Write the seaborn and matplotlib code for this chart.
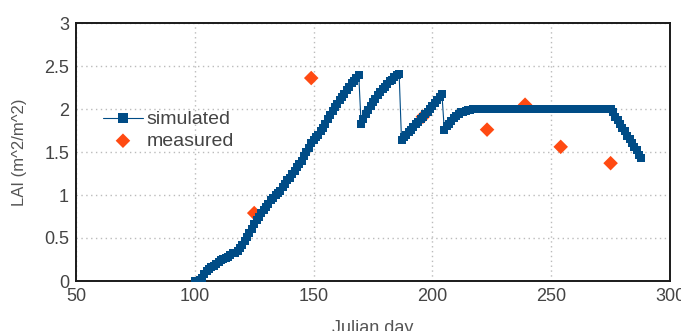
"""
LAI over the season: simulated daily values against field measurements.
"""

import matplotlib
matplotlib.use("Agg")

import pandas as pd
import matplotlib.pyplot as plt
import seaborn as sns

# simulated LAI, one value per day from day 100 to day 288
sim_days = list(range(100, 289))
sim_lai = [
    0.00, 0.00, 0.01, 0.04, 0.08, 0.12, 0.14, 0.16, 0.18, 0.20,  # 100-109
    0.22, 0.24, 0.26, 0.27, 0.28, 0.30, 0.32, 0.33, 0.35, 0.38,  # 110-119
    0.42, 0.46, 0.51, 0.56, 0.61, 0.66, 0.71, 0.75, 0.79, 0.83,  # 120-129
    0.86, 0.90, 0.94, 0.97, 1.00, 1.02, 1.05, 1.09, 1.13, 1.17,  # 130-139
    1.20, 1.24, 1.28, 1.32, 1.36, 1.40, 1.45, 1.50, 1.55, 1.60,  # 140-149
    1.64, 1.67, 1.70, 1.74, 1.78, 1.83, 1.88, 1.93, 1.98, 2.02,  # 150-159
    2.06, 2.10, 2.14, 2.18, 2.22, 2.26, 2.30, 2.33, 2.36, 2.40,  # 160-169
    1.82, 1.88, 1.94, 1.99, 2.04, 2.08, 2.12, 2.16, 2.20, 2.23,  # 170-179
    2.26, 2.29, 2.32, 2.34, 2.37, 2.39, 2.41, 1.64, 1.67, 1.70,  # 180-189
    1.73, 1.76, 1.79, 1.82, 1.85, 1.88, 1.91, 1.94, 1.97, 2.00,  # 190-199
    2.04, 2.07, 2.10, 2.14, 2.18, 1.76, 1.80, 1.83, 1.86, 1.89,  # 200-209
    1.92, 1.94, 1.96, 1.97, 1.98, 1.99, 1.99, 2.00, 2.00, 2.00,  # 210-219
    2.00, 2.00, 2.00, 2.00, 2.00, 2.00, 2.00, 2.00, 2.00, 2.00,  # 220-229
    2.00, 2.00, 2.00, 2.00, 2.00, 2.00, 2.00, 2.00, 2.00, 2.00,  # 230-239
    2.00, 2.00, 2.00, 2.00, 2.00, 2.00, 2.00, 2.00, 2.00, 2.00,  # 240-249
    2.00, 2.00, 2.00, 2.00, 2.00, 2.00, 2.00, 2.00, 2.00, 2.00,  # 250-259
    2.00, 2.00, 2.00, 2.00, 2.00, 2.00, 2.00, 2.00, 2.00, 2.00,  # 260-269
    2.00, 2.00, 2.00, 2.00, 2.00, 2.00, 1.96, 1.91, 1.87, 1.82,  # 270-279
    1.78, 1.74, 1.69, 1.65, 1.61, 1.56, 1.52, 1.47, 1.43,        # 280-288
]

# field measurements
meas_days = [125, 149, 196, 223, 239, 254, 275]
meas_lai = [0.79, 2.36, 1.91, 1.76, 2.05, 1.56, 1.37]

x_ticks = [50, 100, 150, 200, 250, 300]
y_ticks = [0, 0.5, 1, 1.5, 2, 2.5, 3]
y_tick_labels = ["0", "0.5", "1", "1.5", "2", "2.5", "3"]

BLUE = "#004c86"
ORANGE = "#ff4a12"
TEXT = "#444444"

sns.set_theme(style="white")
plt.rcParams["font.family"] = ["Liberation Sans Narrow", "Liberation Sans", "DejaVu Sans"]

sim = pd.DataFrame({"day": sim_days, "lai": sim_lai})
meas = pd.DataFrame({"day": meas_days, "lai": meas_lai})

fig = plt.figure(figsize=(6.81, 3.31), dpi=100)
ax = fig.add_axes([76 / 681, 50 / 331, 594 / 681, 258 / 331])

sns.scatterplot(data=meas, x="day", y="lai", marker="D", s=55, color=ORANGE,
                edgecolor="none", linewidth=0, label="measured", ax=ax, zorder=2)
sns.lineplot(data=sim, x="day", y="lai", estimator=None, marker="s", markersize=5.4,
             markeredgewidth=0, linewidth=0.8, color=BLUE, label="simulated",
             ax=ax, zorder=3)

ax.set_xlim(50, 300)
ax.set_ylim(0, 3)
ax.set_xticks(x_ticks)
ax.set_yticks(y_ticks)
ax.set_yticklabels(y_tick_labels)
ax.tick_params(direction="in", length=4, width=0.8, color="#999999",
               labelsize=13, labelcolor=TEXT, pad=5)
ax.grid(True, linestyle=(0, (1, 2.5)), color="#bbbbbb", linewidth=1)

for spine in ax.spines.values():
    spine.set_color("#1a1a1a")
    spine.set_linewidth(1.4)

ax.set_xlabel("Julian day", fontsize=13, color="#555555", labelpad=11)
ax.set_ylabel("LAI (m^2/m^2)", fontsize=12, color="#555555", labelpad=12,
              family=["Liberation Sans", "DejaVu Sans"])

handles, labels = ax.get_legend_handles_labels()
order = [labels.index("simulated"), labels.index("measured")]
leg = ax.legend([handles[i] for i in order], [labels[i] for i in order],
                loc="upper left", bbox_to_anchor=(0.0455, 0.66), frameon=False,
                fontsize=14, handlelength=2.05, handletextpad=0.2, labelspacing=0.2,
                borderpad=0, borderaxespad=0, labelcolor=TEXT)
leg.legend_handles[0].set_markersize(7)

fig.savefig("out.png", dpi=100)
plt.close(fig)
